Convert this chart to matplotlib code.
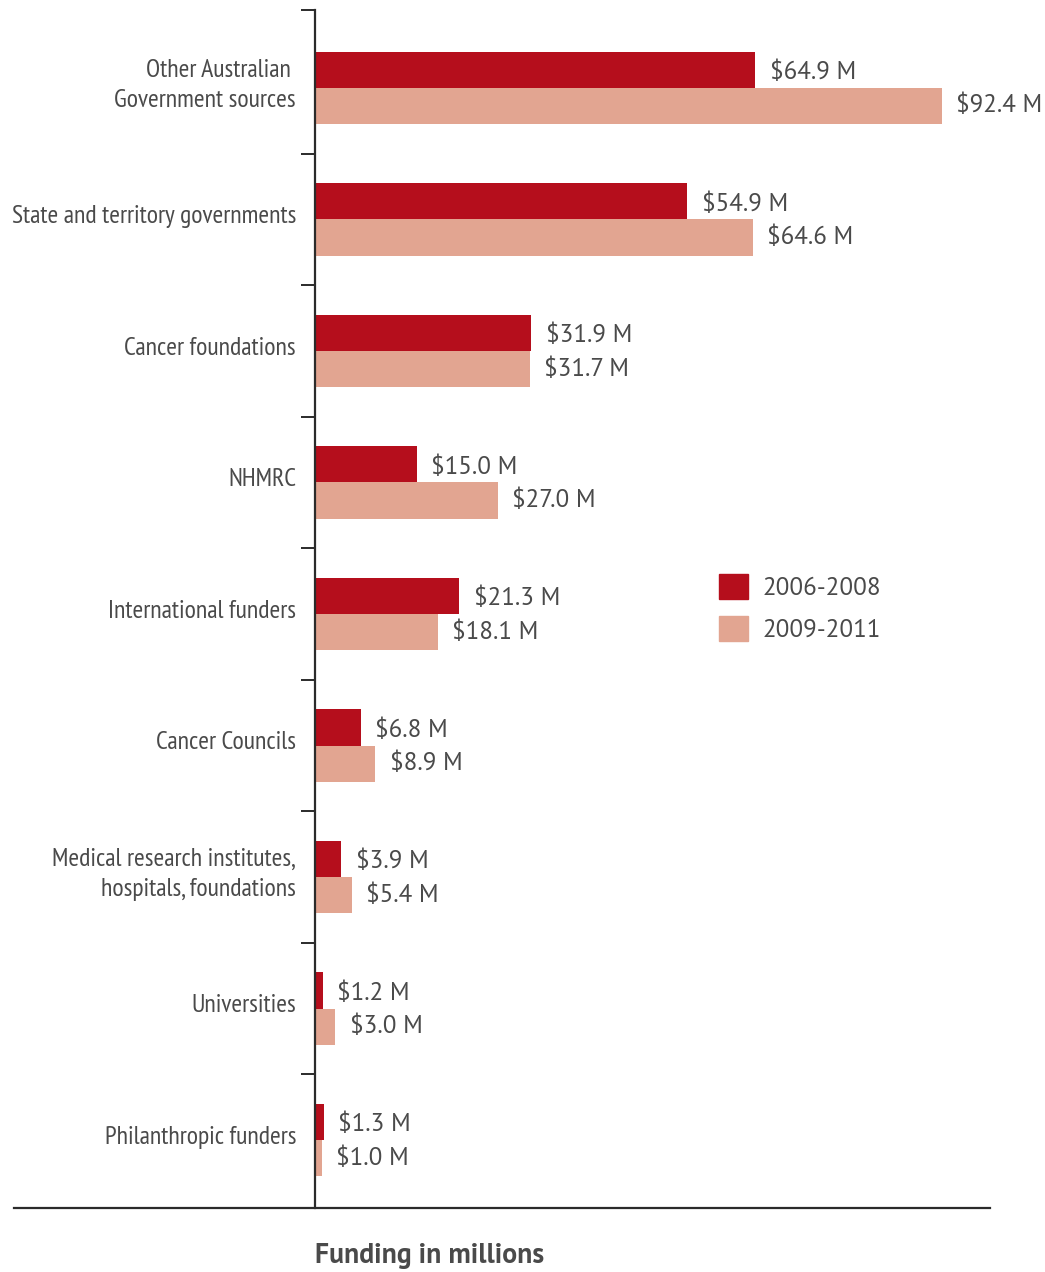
import matplotlib
matplotlib.use("Agg")
import matplotlib.pyplot as plt
import matplotlib.patches as mpatches
from matplotlib.lines import Line2D
import numpy as np

# data
categories = [
    "Other Australian \nGovernment sources",
    "State and territory governments",
    "Cancer foundations",
    "NHMRC",
    "International funders",
    "Cancer Councils",
    "Medical research institutes,\nhospitals, foundations",
    "Universities",
    "Philanthropic funders",
]
funding_2006_2008 = [64.9, 54.9, 31.9, 15.0, 21.3, 6.8, 3.9, 1.2, 1.3]
funding_2009_2011 = [92.4, 64.6, 31.7, 27.0, 18.1, 8.9, 5.4, 3.0, 1.0]
series_labels = ["2006-2008", "2009-2011"]

RED = "#b50e1c"
PINK = "#e2a591"
TEXT = "#4a4a4a"
LINE = "#2b2b2b"
SANS = ["PT Sans", "Open Sans", "DejaVu Sans"]
NARROW = ["PT Sans Narrow", "Open Sans Condensed", "DejaVu Sans"]

W, H = 1045, 1272
fig = plt.figure(figsize=(W / 100, H / 100), dpi=100)
ax = fig.add_axes([315 / W, 1 - 1208 / H, (990 - 315) / W, (1208 - 10) / H])

y = np.arange(len(categories))
bh = 0.274
ax.barh(y - bh / 2, funding_2006_2008, height=bh, color=RED, label=series_labels[0])
ax.barh(y + bh / 2, funding_2009_2011, height=bh, color=PINK, label=series_labels[1])

ax.set_xlim(0, 99.5)
ax.set_ylim(8.517, -0.593)

off = 2.1
val_font = dict(fontsize=18, color=TEXT, family=SANS, va="center")
for i, (a, b) in enumerate(zip(funding_2006_2008, funding_2009_2011)):
    ax.text(a + off, i - bh / 2 + 0.02, f"${a:.1f} M", **val_font)
    ax.text(b + off, i + bh / 2, f"${b:.1f} M", **val_font)

# category labels
for i, cat in enumerate(categories):
    ax.text(-19 / 6.786, i - 0.02, cat, ha="right", va="center", fontsize=18.5,
            color=TEXT, family=NARROW, linespacing=1.35)

# axes styling
for s in ["top", "right", "bottom"]:
    ax.spines[s].set_visible(False)
ax.spines["left"].set_color(LINE)
ax.spines["left"].set_linewidth(1.6)
ax.set_xticks([])
ax.set_yticks(list(np.arange(len(categories) - 1) + 0.5) + [-0.593])
ax.set_yticklabels([])
ax.tick_params(axis="y", length=10, width=1.4, color=LINE)

# bottom baseline extending left of the axis
fig.add_artist(Line2D([14 / W, 990 / W], [1 - 1208 / H] * 2, color=LINE, lw=1.6))

# legend
handles = [mpatches.Patch(color=RED, label=series_labels[0]),
           mpatches.Patch(color=PINK, label=series_labels[1])]
leg = fig.legend(handles=handles, loc="upper left",
                 bbox_to_anchor=(719 / W, 1 - 574 / H), frameon=False,
                 borderpad=0, borderaxespad=0,
                 handlelength=1.15, handleheight=1.15,
                 handletextpad=0.6, labelspacing=0.65,
                 prop={"family": SANS, "size": 18})
for t in leg.get_texts():
    t.set_color(TEXT)

fig.text(315 / W, 1 - 1256 / H, "Funding in millions", ha="left", va="center",
         fontsize=20, fontweight="bold", color=TEXT, family=SANS)

fig.savefig("out.png", dpi=100)
